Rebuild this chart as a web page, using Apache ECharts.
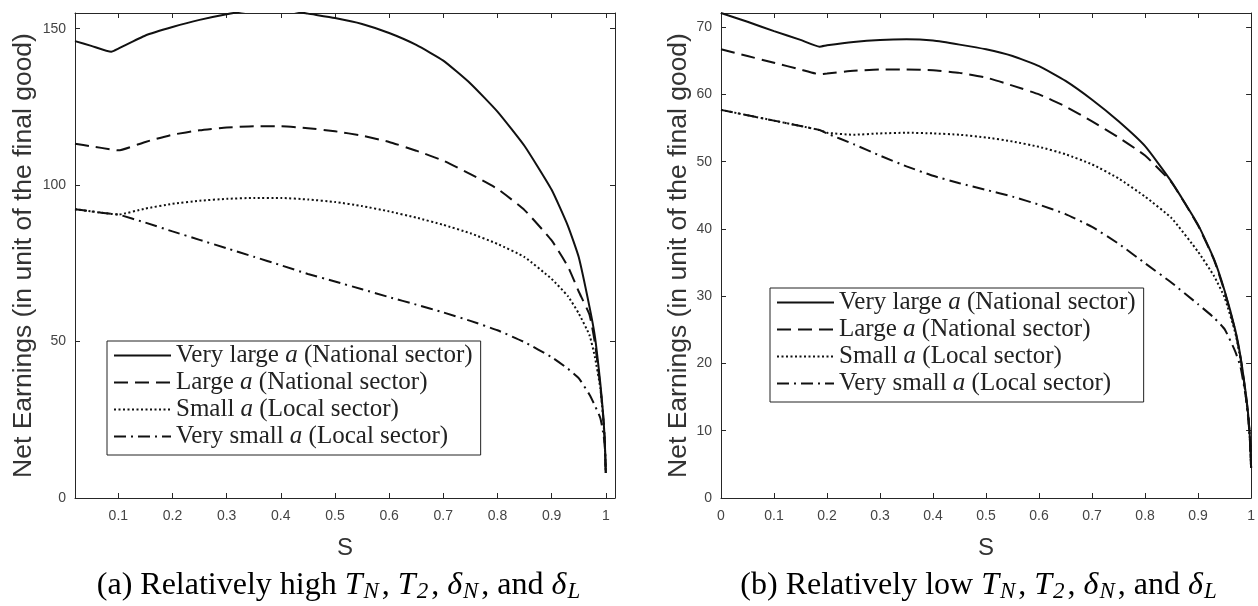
<!DOCTYPE html>
<html><head><meta charset="utf-8">
<script src="https://cdn.jsdelivr.net/npm/echarts@6/dist/echarts.min.js"></script>
<style>html,body{margin:0;padding:0;background:#fff}#c{width:1258px;height:606px}</style>
</head><body><div id="c"></div>
<script>
// ---- data ----
const seriesNames = ['Very large a (National sector)', 'Large a (National sector)', 'Small a (Local sector)', 'Very small a (Local sector)'];
const labelPre = ['Very large ', 'Large ', 'Small ', 'Very small '];
const labelPost = [' (National sector)', ' (National sector)', ' (Local sector)', ' (Local sector)'];

const sA = [0.02, 0.05, 0.087, 0.1, 0.15, 0.2, 0.25, 0.3, 0.35, 0.4, 0.45, 0.5, 0.55, 0.6, 0.65, 0.7, 0.75, 0.8, 0.85, 0.9, 0.93, 0.95, 0.97, 0.98, 0.99, 0.995, 0.998, 1.0];
const veryLargeA = [146.0, 144.5, 142.6, 143.6, 147.8, 150.5, 152.8, 154.6, 156.0, 156.3, 154.8, 153.4, 151.5, 148.6, 144.8, 139.8, 132.5, 123.5, 112.5, 98.5, 87.0, 77.0, 61.0, 51.5, 36.5, 27.0, 19.0, 8.0];
const largeA = [113.2, 112.4, 111.4, 111.1, 113.8, 116.1, 117.5, 118.4, 118.8, 118.8, 118.2, 117.2, 115.8, 113.8, 111.0, 107.8, 103.5, 98.8, 92.0, 82.3, 74.0, 66.0, 58.5, 49.5, 35.5, 26.5, 18.5, 8.0];
const smallA = [92.3, 91.6, 90.8, 90.6, 92.5, 94.0, 95.0, 95.6, 95.9, 95.9, 95.4, 94.6, 93.3, 91.6, 89.6, 87.3, 84.6, 81.2, 77.0, 70.0, 64.5, 59.0, 52.0, 45.0, 35.0, 26.0, 18.0, 8.0];
const verySmallA = [92.3, 91.6, 90.8, 90.6, 88.0, 85.2, 82.5, 79.8, 77.1, 74.4, 71.6, 69.2, 66.7, 64.2, 61.8, 59.3, 56.6, 53.6, 49.8, 45.0, 41.3, 38.3, 33.0, 29.5, 25.5, 21.0, 17.0, 8.0];

const sB = [0, 0.05, 0.1, 0.15, 0.186, 0.2, 0.25, 0.3, 0.35, 0.4, 0.45, 0.5, 0.55, 0.6, 0.65, 0.7, 0.75, 0.8, 0.85, 0.9, 0.93, 0.95, 0.97, 0.98, 0.99, 0.995, 0.998, 1.0];
const veryLargeB = [72.1, 70.8, 69.4, 68.1, 67.1, 67.3, 67.8, 68.1, 68.2, 68.0, 67.4, 66.7, 65.7, 64.2, 62.0, 59.2, 56.0, 52.3, 47.0, 40.6, 35.5, 30.8, 25.0, 21.0, 15.5, 12.0, 8.5, 4.5];
const largeB = [66.7, 65.7, 64.7, 63.7, 63.0, 63.1, 63.5, 63.7, 63.7, 63.6, 63.2, 62.5, 61.3, 60.0, 58.2, 56.0, 53.6, 50.9, 46.9, 40.5, 35.4, 30.7, 24.9, 20.9, 15.4, 11.9, 8.4, 4.5];
const smallB = [57.7, 56.9, 56.1, 55.3, 54.7, 54.3, 54.0, 54.2, 54.3, 54.2, 54.0, 53.6, 53.0, 52.2, 51.1, 49.6, 47.5, 44.8, 41.6, 36.6, 33.0, 29.8, 24.6, 20.6, 15.2, 11.7, 8.3, 4.5];
const verySmallB = [57.7, 56.9, 56.1, 55.3, 54.7, 54.2, 52.6, 50.9, 49.3, 47.9, 46.8, 45.8, 44.8, 43.6, 42.2, 40.3, 37.8, 34.9, 32.0, 28.8, 26.8, 25.1, 21.8, 19.5, 15.0, 11.5, 8.2, 4.5];

const xTicksA = [0.1, 0.2, 0.3, 0.4, 0.5, 0.6, 0.7, 0.8, 0.9, 1];
const yTicksA = [0, 50, 100, 150];
const xTicksB = [0, 0.1, 0.2, 0.3, 0.4, 0.5, 0.6, 0.7, 0.8, 0.9, 1];
const yTicksB = [0, 10, 20, 30, 40, 50, 60, 70];

const yAxisTitle = 'Net Earnings (in unit of the final good)';
const xAxisTitle = 'S';

// ---- chart ----
const chart = echarts.init(document.getElementById('c'), null, {renderer: 'canvas'});
const AX = '#262626';
const SANS = '"Liberation Sans", Arial, sans-serif';
const SERIF = '"Liberation Serif", "Times New Roman", serif';
const dashTypes = ['solid', [14, 7], [2, 2.5], [12, 5, 2, 5]];
const fmt = v => String(parseFloat(Number(v).toFixed(2)));

function xAx(gi, min, max, ticks, pos) {
  const main = pos === 'bottom';
  return {
    type: 'value', gridIndex: gi, position: pos, min, max,
    axisLine: {show: true, onZero: false, lineStyle: {color: AX, width: 1}},
    axisTick: {show: true, inside: true, length: 5, customValues: ticks, lineStyle: {color: AX}},
    axisLabel: {show: main, customValues: ticks, margin: 11, color: '#444', fontSize: 14, fontFamily: SANS, formatter: fmt},
    splitLine: {show: false},
    name: main ? xAxisTitle : '', nameLocation: 'middle', nameGap: 38,
    nameTextStyle: {fontSize: 24, color: '#333', fontFamily: SANS}
  };
}
function yAx(gi, min, max, ticks, pos, gap) {
  const main = pos === 'left';
  return {
    type: 'value', gridIndex: gi, position: pos, min, max,
    axisLine: {show: true, onZero: false, lineStyle: {color: AX, width: 1}},
    axisTick: {show: true, inside: true, length: 5, customValues: ticks, lineStyle: {color: AX}},
    axisLabel: {show: main, customValues: ticks, margin: 9, color: '#444', fontSize: 14, fontFamily: SANS, formatter: fmt},
    splitLine: {show: false},
    name: main ? yAxisTitle : '', nameLocation: 'middle', nameGap: gap, nameRotate: 90,
    nameTextStyle: {fontSize: 26.5, color: '#333', fontFamily: SANS}
  };
}

const dataA = [veryLargeA, largeA, smallA, verySmallA];
const dataB = [veryLargeB, largeB, smallB, verySmallB];
const series = [];
[[sA, dataA, 0, 0], [sB, dataB, 2, 2]].forEach(([xs, sets, xi, yi]) => {
  sets.forEach((vals, k) => {
    series.push({
      type: 'line', name: seriesNames[k], xAxisIndex: xi, yAxisIndex: yi,
      data: xs.map((s, i) => [s, vals[i]]),
      showSymbol: false, symbol: 'none', smooth: 0.15, clip: true, silent: true,
      lineStyle: {color: '#111', width: 2, type: dashTypes[k]},
      itemStyle: {color: '#111'}
    });
  });
});

function legendAt(left, top) {
  return {
    orient: 'vertical', left, top, selectedMode: false,
    data: seriesNames,
    icon: 'inherit',
    itemWidth: 57, itemHeight: 14, itemGap: 2,
    itemStyle: {opacity: 0},
    padding: [2, 8, 6, 6],
    borderColor: '#222', borderWidth: 1, backgroundColor: '#fff',
    formatter: name => {
      const k = seriesNames.indexOf(name);
      return '{n|' + labelPre[k] + '}{i|a}{n|' + labelPost[k] + '}';
    },
    textStyle: {
      fontFamily: SERIF, fontSize: 25, color: '#222', lineHeight: 24,
      rich: {
        n: {fontFamily: SERIF, fontSize: 25, color: '#222', lineHeight: 24},
        i: {fontFamily: SERIF, fontSize: 25, color: '#222', fontStyle: 'italic', lineHeight: 24}
      }
    }
  };
}

function caption(x, tag, word) {
  return {
    type: 'text', x, y: 586, silent: true,
    style: {
      text: '{n|(' + tag + ') Relatively ' + word + ' }{i|T}{s|N}{n|, }{i|T}{s|2}{n|, }{i|δ}{s|N}{n|, and }{i|δ}{s|L}',
      align: 'center', verticalAlign: 'middle',
      rich: {
        n: {fontFamily: SERIF, fontSize: 32, color: '#111', lineHeight: 34},
        i: {fontFamily: SERIF, fontSize: 32, color: '#111', fontStyle: 'italic', lineHeight: 34},
        s: {fontFamily: SERIF, fontSize: 23, color: '#111', fontStyle: 'italic', lineHeight: 14, verticalAlign: 'bottom', padding: [0, 3, 0, 1]}
      }
    }
  };
}

chart.setOption({
  animation: false,
  backgroundColor: '#fff',
  grid: [
    {left: 75, top: 13, width: 540, height: 485, containLabel: false},
    {left: 721, top: 13, width: 534, height: 485, containLabel: false}
  ],
  xAxis: [
    xAx(0, 0.02, 1.017, xTicksA, 'bottom'),
    xAx(0, 0.02, 1.017, xTicksA, 'top'),
    xAx(1, 0, 1, xTicksB, 'bottom'),
    xAx(1, 0, 1, xTicksB, 'top')
  ],
  yAxis: [
    yAx(0, 0, 155, yTicksA, 'left', 38),
    yAx(0, 0, 155, yTicksA, 'right', 38),
    yAx(1, 0, 72.1, yTicksB, 'left', 29),
    yAx(1, 0, 72.1, yTicksB, 'right', 29)
  ],
  legend: [legendAt(107, 341), legendAt(770, 288)],
  series,
  graphic: [caption(340, 'a', 'high'), caption(980, 'b', 'low')]
});
</script></body></html>
